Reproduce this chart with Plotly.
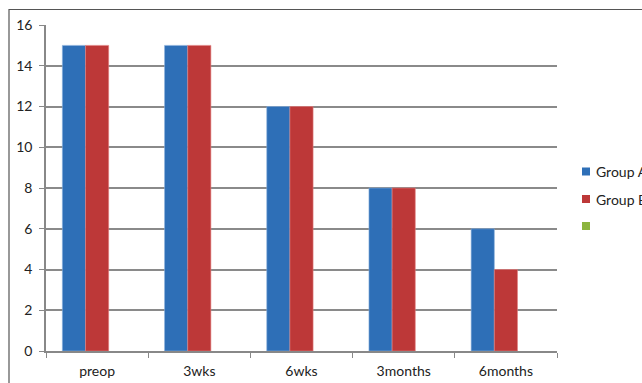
import plotly.graph_objects as go

categories = ["preop", "3wks", "6wks", "3months", "6months"]
group_a = [15, 15, 12, 8, 6]
group_b = [15, 15, 12, 8, 4]
series_names = ["Group A", "Group B", ""]
series_colors = ["#2E6FB7", "#BD3838", "#8CB43E"]
y_ticks = [0, 2, 4, 6, 8, 10, 12, 14, 16]

W, H = 642, 383
L, R, T, B = 46, 557, 25, 351
pw = R - L
ph = B - T

fig = go.Figure()
fig.add_trace(go.Bar(x=categories, y=group_a, name=series_names[0],
                     marker=dict(color=series_colors[0], line=dict(color="#8AB0DC", width=0.6))))
fig.add_trace(go.Bar(x=categories, y=group_b, name=series_names[1],
                     marker=dict(color=series_colors[1], line=dict(color="#E38080", width=0.6))))
fig.add_trace(go.Bar(x=categories, y=[None] * len(categories), name=series_names[2],
                     marker=dict(color=series_colors[2])))

# outer chart border (top and left visible, rest cropped)
fig.add_shape(type="rect", xref="paper", yref="paper",
              x0=(9 - L) / pw, x1=(700 - L) / pw,
              y0=(B - 420) / ph, y1=(B - 9.5) / ph,
              line=dict(color="#555555", width=1.2), fillcolor="rgba(0,0,0,0)",
              layer="below")

# manual legend
legend_y = [171.5, 199, 226]
for name, color, py in zip(series_names, series_colors, legend_y):
    fig.add_shape(type="rect", xref="paper", yref="paper",
                  x0=(582 - L) / pw, x1=(590 - L) / pw,
                  y0=(B - py - 4) / ph, y1=(B - py + 4) / ph,
                  line=dict(width=0), fillcolor=color)
    if name:
        fig.add_annotation(xref="paper", yref="paper",
                           x=(594 - L) / pw, y=(B - py) / ph,
                           xanchor="left", yanchor="middle", showarrow=False,
                           text=name, font=dict(size=14, color="#222222"))

fig.update_layout(
    width=W, height=H,
    margin=dict(l=L, r=W - R, t=T, b=H - B, pad=0, autoexpand=False),
    paper_bgcolor="white", plot_bgcolor="white",
    barmode="group", bargap=0.32, bargroupgap=0,
    font=dict(family="Lato, 'Open Sans', sans-serif", size=14, color="#222222"),
    showlegend=False,
    xaxis=dict(showgrid=False, showline=True, linecolor="#888888", linewidth=1.5,
               ticks="outside", tickson="boundaries", ticklen=5, tickcolor="#888888",
               tickwidth=1.2, tickfont=dict(size=14), ticklabelstandoff=6),
    yaxis=dict(range=[0, 16], tickvals=y_ticks, showgrid=True, gridcolor="#8a8a8a",
               gridwidth=1.5, showline=True, linecolor="#888888", linewidth=1.5,
               ticks="outside", ticklen=5, tickcolor="#888888", tickwidth=1.2,
               tickfont=dict(size=14), zeroline=False, ticklabelstandoff=4),
)

fig.write_html("out.html")
